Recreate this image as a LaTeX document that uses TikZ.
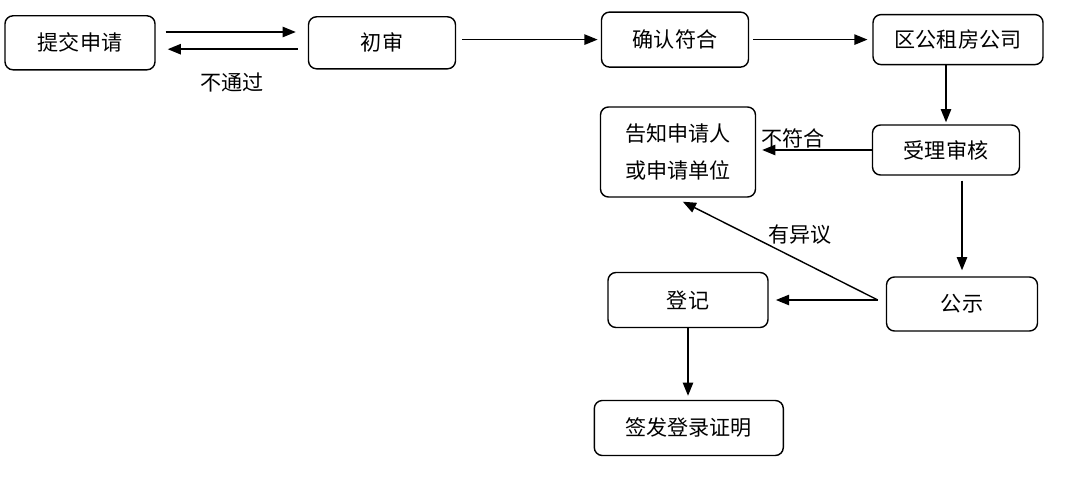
\documentclass[tikz,border=0pt]{standalone}
\usepackage{fontspec}
\setmainfont{Noto Sans CJK SC}
\usetikzlibrary{arrows.meta}
\begin{document}
\begin{tikzpicture}[style={line width=1pt},scale=1,>={Triangle[length=3.3mm,width=2.6mm]}]
\tikzstyle{every node}=[font=\fontsize{15}{26}\selectfont]
\tikzstyle{box}=[draw, rounded corners=2mm, align=center, inner sep=0pt]
\tikzstyle{lbl}=[inner sep=1pt]

\useasboundingbox (0,0) rectangle (27,-12.075);

\node[box, minimum width=3.75cm, minimum height=1.35cm] (A) at (2.0, -1.07) {提交申请};
\node[box, minimum width=3.675cm, minimum height=1.3cm] (B) at (9.55, -1.07) {初审};
\node[box, minimum width=3.675cm, minimum height=1.375cm] (C) at (16.875, -0.99) {确认符合};
\node[box, minimum width=4.25cm, minimum height=1.25cm] (D) at (23.95, -0.99) {区公租房公司};
\node[box, minimum width=3.875cm, minimum height=2.25cm] (E) at (16.95, -3.8) {告知申请人\\或申请单位};
\node[box, minimum width=3.675cm, minimum height=1.25cm] (F) at (23.65, -3.75) {受理审核};
\node[box, minimum width=3.775cm, minimum height=1.35cm] (G) at (24.05, -7.6) {公示};
\node[box, minimum width=4.0cm, minimum height=1.375cm] (H) at (17.2, -7.5) {登记};
\node[box, minimum width=4.725cm, minimum height=1.375cm] (I) at (17.22, -10.7) {签发登录证明};
\coordinate (P) at ([xshift=-0.2cm, yshift=0.1cm]G.west);

\draw[->, shorten <=0.25cm, shorten >=0.3cm] ([yshift=0.27cm]A.east) -- ([yshift=0.27cm]B.west);
\draw[->, shorten <=0.25cm, shorten >=0.3cm] ([yshift=-0.16cm]B.west) -- ([yshift=-0.16cm]A.east) node[midway, below=0.55cm, lbl] {不通过};
\draw[->, shorten <=0.15cm, shorten >=0.08cm] (B.east |- C) -- (C.west);
\draw[->, shorten <=0.1cm, shorten >=0.12cm] (C.east) -- (D.west |- C);
\draw[->, shorten >=0.05cm] (F.north |- D.south) -- (F.north);
\draw[->, shorten >=0.15cm] (F.west) -- (F.west -| E.east) node[pos=0.68, above, lbl] {不符合};
\draw[->, shorten <=0.12cm, shorten >=0.15cm] (G.north |- F.south) -- (G.north);
\draw[->, shorten >=0.18cm] (P) -- (P -| H.east);
\draw[->] (P) -- ([shift={(0.12cm,-0.1cm)}]E.south) node[pos=0.4, above=0.35cm, lbl] {有异议};
\draw[->, shorten >=0.1cm] (H.south) -- (H.south |- I.north);

\end{tikzpicture}
\end{document}
